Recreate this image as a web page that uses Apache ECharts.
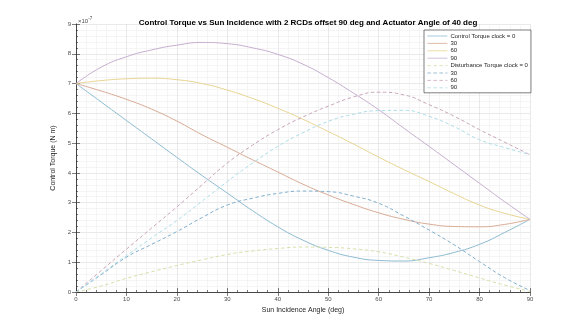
<!DOCTYPE html>
<html><head><meta charset="utf-8">
<script src="https://cdn.jsdelivr.net/npm/echarts@6/dist/echarts.min.js"></script>
<style>html,body{margin:0;padding:0;background:#fff}#c{width:584px;height:329px}</style>
</head><body><div id="c"></div>
<script>
const angles = [0,5,10,15,20,25,30,35,40,45,50,55,60,65,70,75,80,85,90];
const xTicks = [0,10,20,30,40,50,60,70,80,90];
const yTicks = [0,1,2,3,4,5,6,7,8,9];
const ctrlClock0  = [7.0,6.38,5.76,5.14,4.52,3.91,3.32,2.73,2.19,1.74,1.40,1.17,1.06,1.04,1.15,1.33,1.60,2.00,2.44];
const ctrlClock30 = [7.0,6.75,6.47,6.14,5.74,5.28,4.86,4.44,4.03,3.62,3.26,2.94,2.66,2.44,2.28,2.20,2.19,2.27,2.44];
const ctrlClock60 = [7.0,7.10,7.16,7.18,7.13,7.00,6.78,6.50,6.17,5.80,5.39,4.97,4.53,4.11,3.71,3.30,2.92,2.64,2.44];
const ctrlClock90 = [7.0,7.55,7.90,8.13,8.29,8.38,8.34,8.20,7.98,7.65,7.20,6.68,6.12,5.50,4.89,4.27,3.65,3.03,2.44];
const distClock0  = [0.0,0.20,0.46,0.68,0.89,1.08,1.26,1.38,1.46,1.51,1.50,1.45,1.35,1.17,0.96,0.72,0.47,0.23,0.02];
const distClock30 = [0.0,0.58,1.17,1.60,2.03,2.50,2.92,3.15,3.31,3.39,3.37,3.22,2.98,2.55,2.08,1.58,1.02,0.48,0.05];
const distClock60 = [0.0,0.72,1.44,2.15,2.86,3.60,4.33,4.93,5.45,5.88,6.24,6.55,6.71,6.62,6.29,5.90,5.45,5.03,4.61];
const distClock90 = [0.0,0.61,1.22,1.82,2.40,3.05,3.71,4.33,4.89,5.35,5.73,5.97,6.09,6.10,5.90,5.55,5.11,4.85,4.61];
const seriesNames = ['Control Torque clock = 0','30','60','90','Disturbance Torque clock = 0','30 ','60 ','90 '];
const seriesData = [ctrlClock0,ctrlClock30,ctrlClock60,ctrlClock90,distClock0,distClock30,distClock60,distClock90];
const colors = ['#8dbbd0','#d8ab95','#e8d592','#c6aed0','#d6deaa','#80aecd','#c9a5ba','#addde8'];
const FONT = 'Liberation Sans, Arial, sans-serif';

const chart = echarts.init(document.getElementById('c'), null, {renderer:'canvas'});
const series = seriesData.map((arr,i)=>({
  name: seriesNames[i], type:'line', symbol:'none', smooth:true,
  data: arr.map((v,j)=>[angles[j], v]),
  lineStyle:{color:colors[i], width:1, type: i<4 ? 'solid' : [3.5,2.5]},
  itemStyle:{color:colors[i]}, z: 3
}));
const axisLineStyle = {color:'#262626', width:0.6};
const minorSplit = {show:true, lineStyle:{color:'#efefef', width:0.6}};
chart.setOption({
  animation:false,
  backgroundColor:'#fff',
  title:{text:'Control Torque vs Sun Incidence with 2 RCDs offset 90 deg and Actuator Angle of 40 deg',
    left:303, top:14, textAlign:'center',
    textStyle:{fontFamily:FONT, fontSize:8, fontWeight:'bold', color:'#000'}},
  grid:{left:76, right:54, top:24, bottom:37},
  legend:{
    orient:'vertical', left:424, top:30, data: seriesNames,
    formatter: n => n.trim(),
    backgroundColor:'#fff', borderColor:'#262626', borderWidth:0.6, borderRadius:0,
    padding:[3,3,2,3], itemGap:1.4, itemWidth:20, itemHeight:6,
    itemStyle:{opacity:0},
    lineStyle:{width:0.8},
    textStyle:{fontFamily:FONT, fontSize:6, color:'#262626', padding:[0,0,0,-2]},
    selectedMode:false
  },
  graphic:[{type:'text', left:78, top:16,
    style:{text:'{a|×10}{b|-7}', rich:{a:{fontSize:6, fontFamily:FONT, fill:'#4d4d4d'}, b:{fontSize:4.5, fontFamily:FONT, fill:'#4d4d4d', verticalAlign:'top', padding:[0,0,5,0]}}}}],
  xAxis:[{
    type:'value', min:0, max:90, interval:10,
    name:'Sun Incidence Angle (deg)', nameLocation:'middle', nameGap:12,
    nameTextStyle:{fontFamily:FONT, fontSize:7, color:'#262626'},
    axisLine:{show:true, lineStyle:axisLineStyle}, axisTick:{show:true, inside:true, length:4, lineStyle:axisLineStyle},
    axisLabel:{fontFamily:FONT, fontSize:6, color:'#4d4d4d', margin:4, formatter: v => xTicks.includes(v) ? String(v) : ''},
    splitLine:{show:true, lineStyle:{color:'#dadada', width:0.6}},
    minorTick:{show:true, splitNumber:5, length:2, lineStyle:axisLineStyle},
    minorSplitLine:minorSplit
  },{
    type:'value', position:'top', min:0, max:90, interval:10,
    axisLine:{show:true, lineStyle:axisLineStyle}, axisTick:{show:true, inside:true, length:4, lineStyle:axisLineStyle},
    axisLabel:{show:false}, splitLine:{show:false}
  }],
  yAxis:[{
    type:'value', min:0, max:9, interval:1,
    name:'Control Torque (N m)', nameLocation:'middle', nameGap:12,
    nameTextStyle:{fontFamily:FONT, fontSize:7, color:'#262626'},
    axisLine:{show:true, lineStyle:axisLineStyle}, axisTick:{show:true, inside:true, length:4, lineStyle:axisLineStyle},
    axisLabel:{fontFamily:FONT, fontSize:6, color:'#4d4d4d', margin:5, formatter: v => yTicks.includes(v) ? String(v) : ''},
    splitLine:{show:true, lineStyle:{color:'#dadada', width:0.6}},
    minorTick:{show:true, splitNumber:5, length:2, lineStyle:axisLineStyle},
    minorSplitLine:minorSplit
  },{
    type:'value', position:'right', min:0, max:9, interval:1,
    axisLine:{show:true, lineStyle:axisLineStyle}, axisTick:{show:true, inside:true, length:4, lineStyle:axisLineStyle},
    axisLabel:{show:false}, splitLine:{show:false}
  }],
  series
});
</script></body></html>
